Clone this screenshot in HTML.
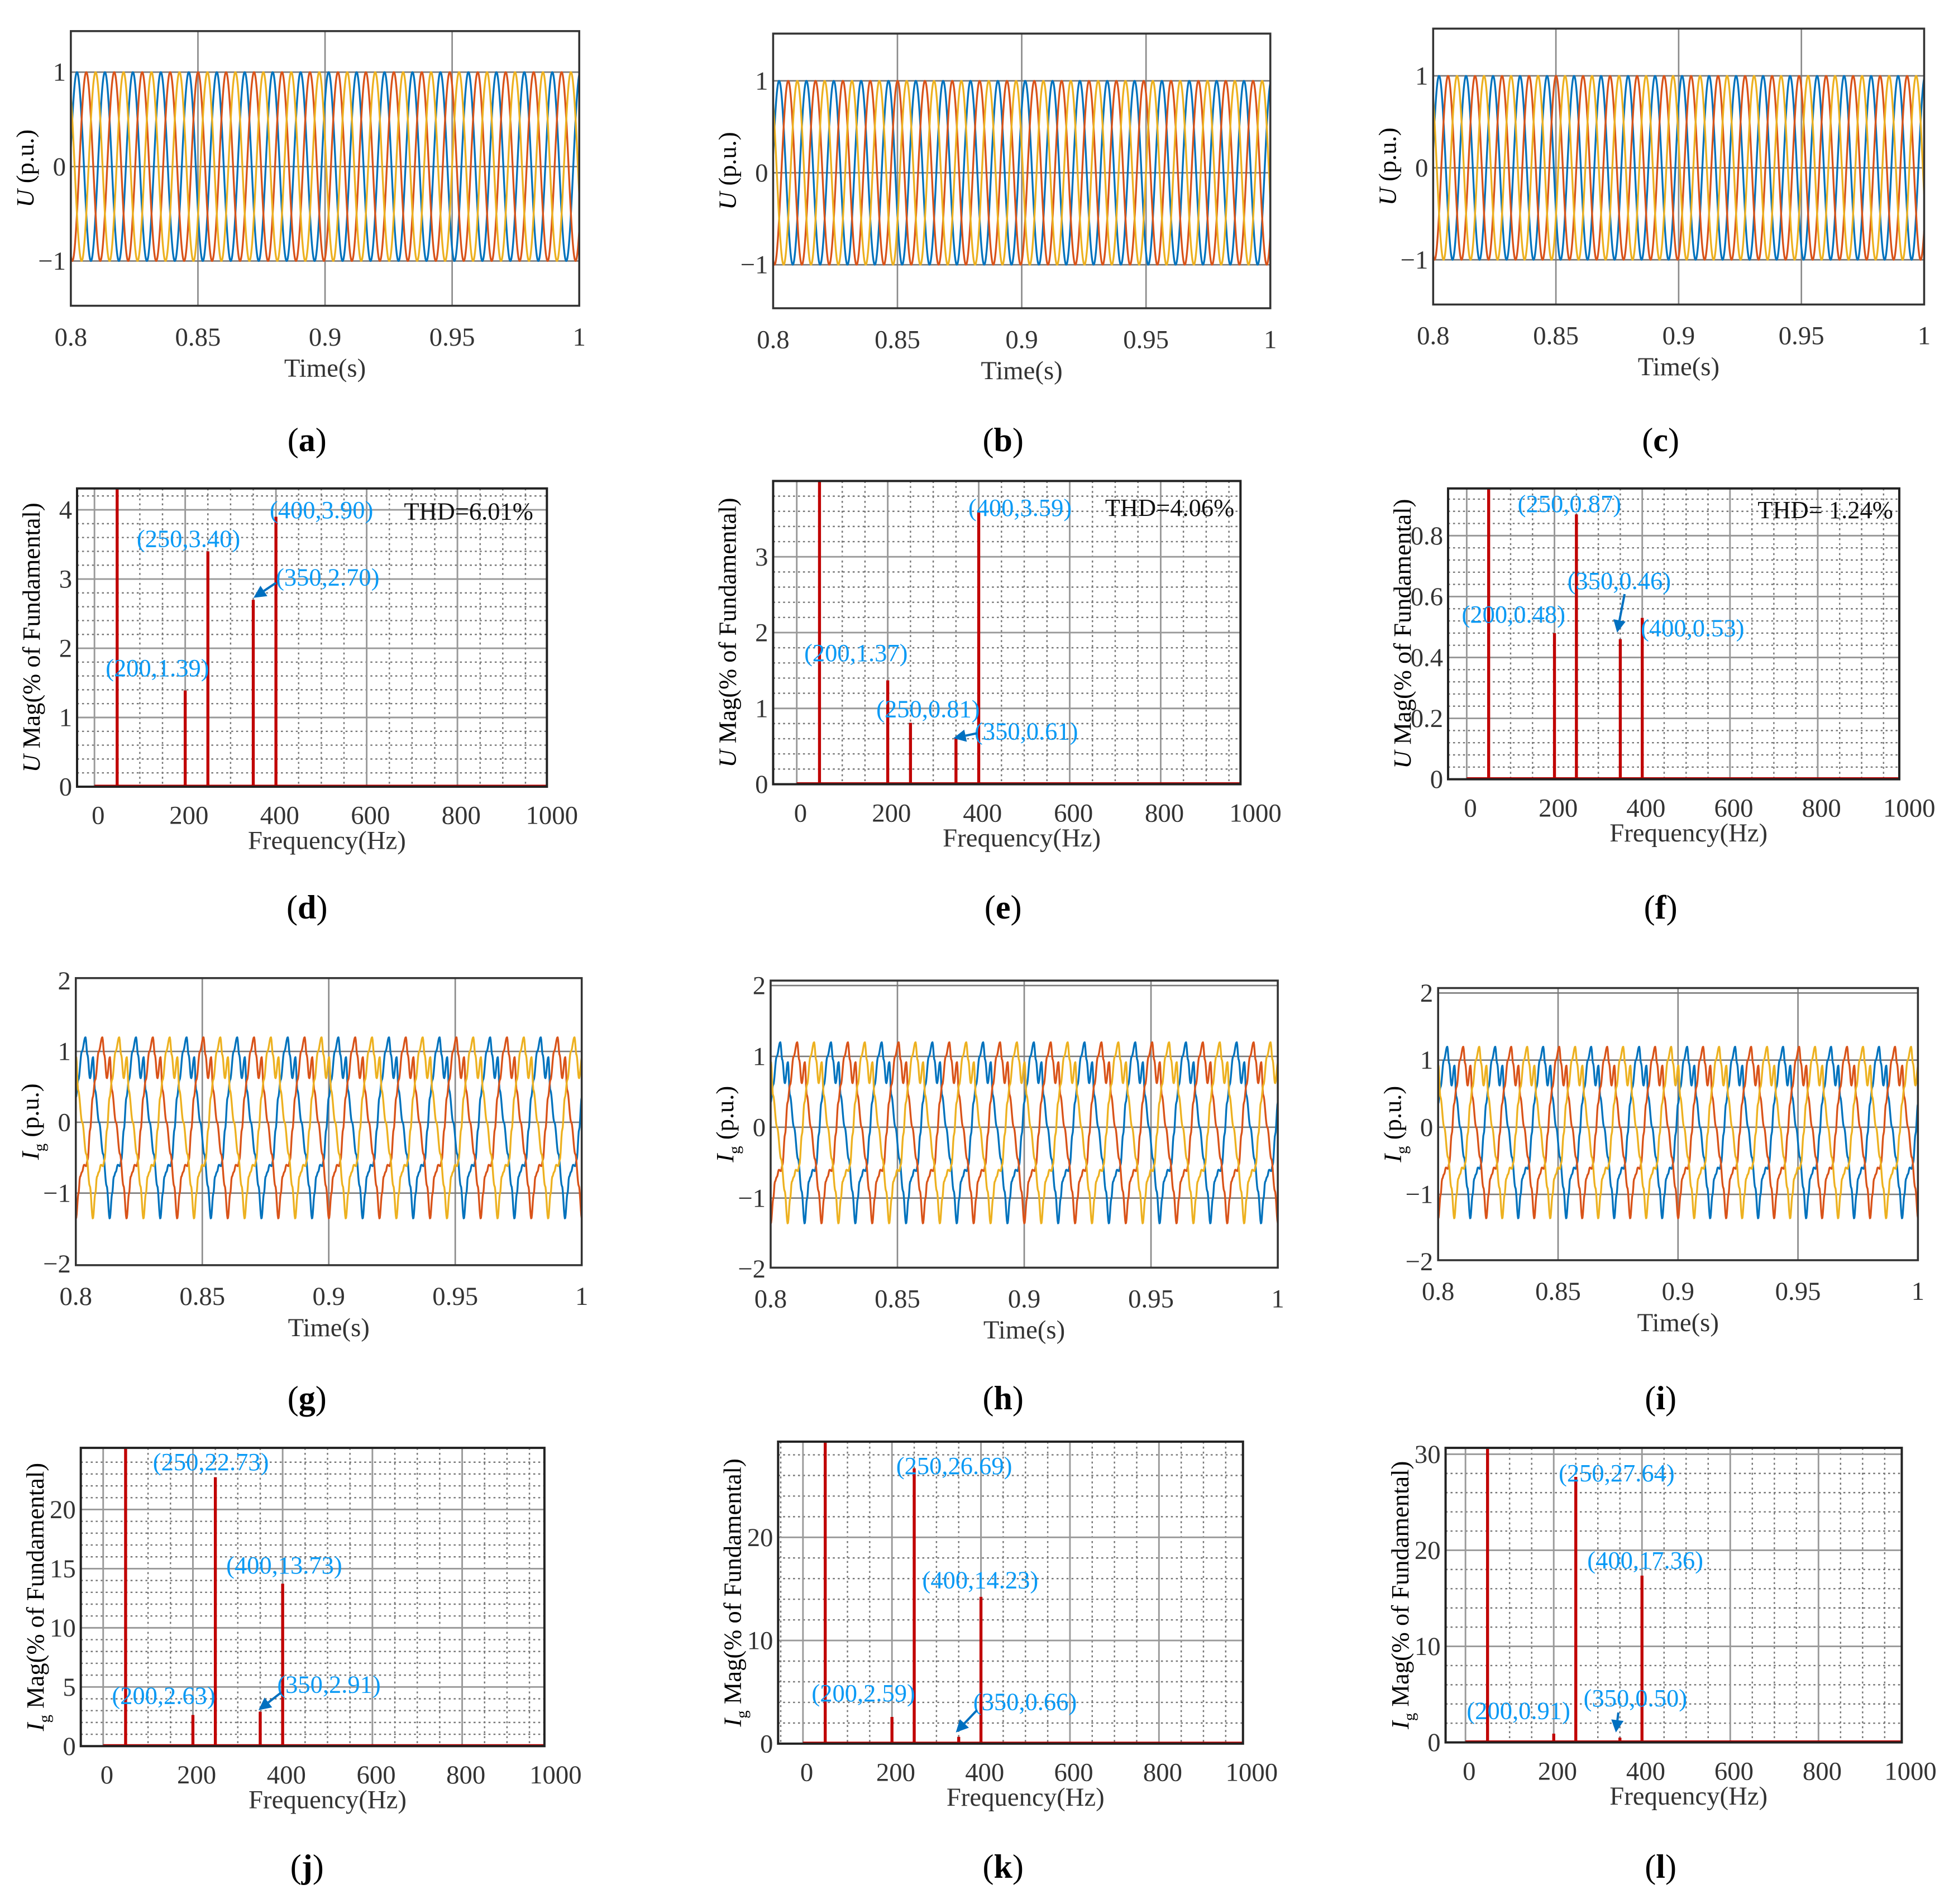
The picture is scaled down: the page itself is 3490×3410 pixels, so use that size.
<!DOCTYPE html>
<html><head><meta charset="utf-8"><style>
html,body{margin:0;padding:0;background:#fff}
svg{display:block}
svg text{font-family:"Liberation Serif","DejaVu Serif",serif}
</style></head><body>
<svg id="fig" xmlns="http://www.w3.org/2000/svg" width="3490" height="3410" viewBox="0 0 1568 1532" font-family="Liberation Serif, serif">
<rect width="1568" height="1532" fill="#fff"/>
</svg>
<script>
// ---- data ----
const timeTicks = [0.8, 0.85, 0.9, 0.95, 1];
const timeTickLabels = ["0.8", "0.85", "0.9", "0.95", "1"];
const phaseColors = ["#0072BD", "#D95319", "#EDB120"];
const phaseLagCycles = [0, 1/3, 2/3];
// voltage: apparent period (s) and time of first blue peak
const voltPeriod = 0.011;
const voltFirstPeak = 0.8024;
// current: one-cycle waveform (fraction of cycle after peak, value p.u.)
const currPeriod = 0.02;
const currFirstPeak = 0.8038;
const currCycleFrac = [0, 0.04, 0.09, 0.15, 0.19, 0.27, 0.35, 0.42, 0.48, 0.53, 0.56, 0.6, 0.64, 0.68, 0.71, 0.76, 0.81, 0.86, 0.93, 1];
const currCycleVal  = [1.2, 0.95, 0.62, 0.92, 0.45, 0.0, -0.45, -0.9, -1.36, -1.0, -0.77, -0.7, -0.6, -0.62, -0.53, -0.1, 0.35, 0.6, 1.0, 1.2];
const freqTicks = [0, 200, 400, 600, 800, 1000];
const freqTickLabels = ["0", "200", "400", "600", "800", "1000"];
const harmFreqs = [50, 200, 250, 350, 400];
const magD = [100, 1.39, 3.40, 2.70, 3.90];
const magE = [100, 1.37, 0.81, 0.61, 3.59];
const magF = [100, 0.48, 0.87, 0.46, 0.53];
const magJ = [100, 2.63, 22.73, 2.91, 13.73];
const magK = [100, 2.59, 26.69, 0.66, 14.23];
const magL = [100, 0.91, 27.64, 0.50, 17.36];

const NS = "http://www.w3.org/2000/svg";
const svg = document.getElementById('fig');
let clipId = 0;
function el(tag, attrs, parent, txt){
  const e = document.createElementNS(NS, tag);
  for (const k in attrs) e.setAttribute(k, attrs[k]);
  if (tag === 'text') e.setAttribute('font-family', 'Liberation Serif, DejaVu Serif, serif');
  if (txt !== undefined) e.textContent = txt;
  (parent || svg).appendChild(e);
  return e;
}
function makeClip(g, l, t, r, b){
  const id = 'c' + (clipId++);
  const cp = el('clipPath', {id: id}, g);
  el('rect', {x: l, y: t, width: r - l, height: b - t}, cp);
  return 'url(#' + id + ')';
}
function subLabel(x, y, letter, name){
  const t = el('text', {x: x, y: y, 'font-size': 27, 'text-anchor': 'middle'});
  
  
  el('tspan', {}, t, '(');
  el('tspan', {'font-weight': 'bold'}, t, letter);
  el('tspan', {}, t, ')');
}
function yTitle(g, x, cy, main, sub, rest){
  const t = el('text', {x: 0, y: 0, 'font-size': 20, 'text-anchor': 'middle', transform: 'translate(' + x + ',' + cy + ') rotate(-90)'}, g);
  
  
  el('tspan', {'font-style': 'italic'}, t, main);
  if (sub) el('tspan', {'font-size': 13, dy: 5}, t, sub);
  el('tspan', {dy: sub ? -5 : 0}, t, rest);
}
function voltVal(t, p){
  return Math.cos(2 * Math.PI * ((t - voltFirstPeak) / voltPeriod - phaseLagCycles[p]));
}
function currVal(t, p){
  let f = (t - currFirstPeak) / currPeriod - phaseLagCycles[p];
  f = f - Math.floor(f);
  for (let i = 1; i < currCycleFrac.length; i++){
    if (f <= currCycleFrac[i]){
      const a = currCycleFrac[i - 1], b = currCycleFrac[i];
      const u = (f - a) / (b - a);
      const s = (1 - Math.cos(Math.PI * u)) / 2;
      return currCycleVal[i - 1] + (currCycleVal[i] - currCycleVal[i - 1]) * s;
    }
  }
  return currCycleVal[0];
}

function timePanel(o){
  const g = el('g', {});
  
  
  const X = t => o.l + (t - 0.8) / 0.2 * (o.r - o.l);
  const Y = v => o.y0 - v * o.unit;
  el('rect', {x: o.l, y: o.t, width: o.r - o.l, height: o.b - o.t, fill: '#fff'}, g);
  timeTicks.forEach((tv, i) => {
    if (i > 0 && i < timeTicks.length - 1) el('line', {x1: X(tv), x2: X(tv), y1: o.t, y2: o.b, stroke: '#8a8a8a', 'stroke-width': 1.2}, g);
    const lb = el('text', {x: X(tv), y: o.b + 32, 'font-size': 21, 'text-anchor': 'middle', fill: '#333'}, g, timeTickLabels[i]);
    
    
  });
  o.yticks.forEach((v, i) => {
    if (Y(v) > o.t + 2 && Y(v) < o.b - 2) el('line', {x1: o.l, x2: o.r, y1: Y(v), y2: Y(v), stroke: '#7a7a7a', 'stroke-width': 1.2}, g);
    const lb = el('text', {x: o.l - 4, y: Y(v) + 7, 'font-size': 21, 'text-anchor': 'end', fill: '#333'}, g, o.ylabels[i]);
    
    
  });
  const cp = makeClip(g, o.l, o.t, o.r, o.b);
  const lg = el('g', {'clip-path': cp}, g);
  phaseColors.forEach((col, p) => {
    let d = '';
    const N = 1200;
    for (let k = 0; k <= N; k++){
      const t = 0.8 + 0.2 * k / N;
      const v = o.fn(t, p);
      d += (k ? 'L' : 'M') + X(t).toFixed(2) + ',' + Y(v).toFixed(2);
    }
    const pth = el('path', {d: d, fill: 'none', stroke: col, 'stroke-width': 1.5, 'stroke-linejoin': 'round'}, lg);
    
    
  });
  el('rect', {x: o.l, y: o.t, width: o.r - o.l, height: o.b - o.t, fill: 'none', stroke: '#333', 'stroke-width': 1.6}, g);
  yTitle(g, o.l - 30, (o.t + o.b) / 2, o.ymain, o.ysub, ' (p.u.)');
  const xt = el('text', {x: (o.l + o.r) / 2, y: o.b + 57, 'font-size': 21, 'text-anchor': 'middle', fill: '#333'}, g, 'Time(s)');
  
  
}

function specPanel(o){
  const g = el('g', {});
  
  
  const X = f => o.x0 + f / 200 * o.p200;
  const Y = v => o.y0 - v / o.ystep * o.ypx;
  el('rect', {x: o.l, y: o.t, width: o.r - o.l, height: o.b - o.t, fill: '#fff'}, g);
  for (let f = -200; f <= 1200; f += 50){
    if (f % 200 === 0) continue;
    const x = X(f);
    if (x > o.l + 1 && x < o.r - 1) el('line', {x1: x, x2: x, y1: o.t, y2: o.b, stroke: '#777', 'stroke-width': 1.1, 'stroke-dasharray': '1.6,2.4'}, g);
  }
  for (let k = 1; ; k++){
    const v = k * o.ystep / 5;
    if (Y(v) < o.t + 1) break;
    if (k % 5 === 0) continue;
    el('line', {x1: o.l, x2: o.r, y1: Y(v), y2: Y(v), stroke: '#777', 'stroke-width': 1.1, 'stroke-dasharray': '1.6,2.4'}, g);
  }
  freqTicks.forEach((f, i) => {
    const x = X(f);
    if (x > o.l + 1 && x < o.r - 1) el('line', {x1: x, x2: x, y1: o.t, y2: o.b, stroke: '#999', 'stroke-width': 1.3}, g);
    const lb = el('text', {x: x + 3, y: o.b + 30, 'font-size': 21, 'text-anchor': 'middle', fill: '#333'}, g, freqTickLabels[i]);
    
    
  });
  o.ylabels.forEach((s, i) => {
    const v = i * o.ystep;
    if (i > 0) el('line', {x1: o.l, x2: o.r, y1: Y(v), y2: Y(v), stroke: '#999', 'stroke-width': 1.3}, g);
    const lb = el('text', {x: o.l - 4, y: Y(v) + 7, 'font-size': 21, 'text-anchor': 'end', fill: '#333'}, g, s);
    
    
  });
  const cp = makeClip(g, o.l, o.t, o.r, o.b);
  const bg = el('g', {'clip-path': cp}, g);
  el('line', {x1: X(0), x2: X(1000), y1: o.b - 1, y2: o.b - 1, stroke: '#c00000', 'stroke-width': 1.2}, bg);
  harmFreqs.forEach((f, i) => {
    const bar = el('line', {x1: X(f), x2: X(f), y1: o.b, y2: Y(o.mags[i]), stroke: '#c00000', 'stroke-width': 2.4}, bg);
    
    
  });
  el('rect', {x: o.l, y: o.t, width: o.r - o.l, height: o.b - o.t, fill: 'none', stroke: '#222', 'stroke-width': 1.8}, g);
  o.ann.forEach(a => {
    const t = el('text', {x: a[0], y: a[1], 'font-size': 20, fill: a[3] || '#0a9af5', 'text-anchor': 'start'}, g, a[2]);
    
    
  });
  if (o.arrow){
    const [x1, y1, x2, y2] = o.arrow;
    const ang = Math.atan2(y2 - y1, x2 - x1);
    const hl = 10, hw = 5;
    const bx = x2 - hl * Math.cos(ang), by = y2 - hl * Math.sin(ang);
    const ar = el('g', {}, g);
    
    
    el('line', {x1: x1, y1: y1, x2: bx, y2: by, stroke: '#0070C0', 'stroke-width': 1.8}, ar);
    el('polygon', {points: x2 + ',' + y2 + ' ' + (bx + hw * Math.sin(ang)) + ',' + (by - hw * Math.cos(ang)) + ' ' + (bx - hw * Math.sin(ang)) + ',' + (by + hw * Math.cos(ang)), fill: '#0070C0'}, ar);
  }
  yTitle(g, o.l - 30, (o.t + o.b) / 2, o.ymain, o.ysub, ' Mag(% of Fundamental)');
  const xt = el('text', {x: (o.l + o.r) / 2 + 12, y: o.b + 50, 'font-size': 21, 'text-anchor': 'middle', fill: '#333'}, g, 'Frequency(Hz)');
  
  
}

const vY = [-1, 0, 1], vL = ["\u22121", "0", "1"];
const iY = [-2, -1, 0, 1, 2], iL = ["\u22122", "\u22121", "0", "1", "2"];
timePanel({name: 'panel-a', l: 57, r: 466, t: 25, b: 246, y0: 134, unit: 76, yticks: vY, ylabels: vL, fn: voltVal, ymain: 'U'});
timePanel({name: 'panel-b', l: 622, r: 1022, t: 27, b: 248, y0: 139, unit: 74, yticks: vY, ylabels: vL, fn: voltVal, ymain: 'U'});
timePanel({name: 'panel-c', l: 1153, r: 1548, t: 23, b: 245, y0: 135, unit: 74, yticks: vY, ylabels: vL, fn: voltVal, ymain: 'U'});
timePanel({name: 'panel-g', l: 61, r: 468, t: 787, b: 1018, y0: 903, unit: 57, yticks: iY, ylabels: iL, fn: currVal, ymain: 'I', ysub: 'g'});
timePanel({name: 'panel-h', l: 620, r: 1028, t: 789, b: 1020, y0: 907, unit: 57, yticks: iY, ylabels: iL, fn: currVal, ymain: 'I', ysub: 'g'});
timePanel({name: 'panel-i', l: 1157, r: 1543, t: 795, b: 1014, y0: 907, unit: 54, yticks: iY, ylabels: iL, fn: currVal, ymain: 'I', ysub: 'g'});

specPanel({name: 'panel-d', l: 62, r: 440, t: 393, b: 633, x0: 76, p200: 73, y0: 633, ystep: 1, ypx: 55.7, ylabels: ["0", "1", "2", "3", "4"], mags: magD, ymain: 'U',
  ann: [[217, 417, '(400,3.90)'], [325, 418, 'THD=6.01%', '#111'], [110, 440, '(250,3.40)'], [222, 471, '(350,2.70)'], [85, 544, '(200,1.39)']], arrow: [222, 469, 204, 481]});
specPanel({name: 'panel-e', l: 622, r: 998, t: 387, b: 631, x0: 641, p200: 73.2, y0: 631, ystep: 1, ypx: 61, ylabels: ["0", "1", "2", "3"], mags: magE, ymain: 'U',
  ann: [[779, 415, '(400,3.59)'], [889, 415, 'THD=4.06%', '#111'], [647, 532, '(200,1.37)'], [705, 577, '(250,0.81)'], [784, 595, '(350,0.61)']], arrow: [786, 590, 767, 594]});
specPanel({name: 'panel-f', l: 1165, r: 1528, t: 393, b: 627, x0: 1180, p200: 70.6, y0: 627, ystep: 0.2, ypx: 49, ylabels: ["0", "0.2", "0.4", "0.6", "0.8"], mags: magF, ymain: 'U',
  ann: [[1221, 412, '(250,0.87)'], [1414, 417, 'THD= 1.24%', '#111'], [1261, 474, '(350,0.46)'], [1176, 501, '(200,0.48)'], [1320, 512, '(400,0.53)']], arrow: [1307, 478, 1301, 509]});
specPanel({name: 'panel-j', l: 65, r: 438, t: 1165, b: 1405, x0: 83, p200: 72.2, y0: 1405, ystep: 5, ypx: 47.6, ylabels: ["0", "5", "10", "15", "20"], mags: magJ, ymain: 'I', ysub: 'g',
  ann: [[123, 1183, '(250,22.73)'], [182, 1266, '(400,13.73)'], [90, 1371, '(200,2.63)'], [223, 1362, '(350,2.91)']], arrow: [226, 1362, 208, 1376]});
specPanel({name: 'panel-k', l: 626, r: 1000, t: 1160, b: 1403, x0: 646, p200: 71.6, y0: 1403, ystep: 10, ypx: 83, ylabels: ["0", "10", "20"], mags: magK, ymain: 'I', ysub: 'g',
  ann: [[721, 1186, '(250,26.69)'], [742, 1278, '(400,14.23)'], [653, 1369, '(200,2.59)'], [783, 1376, '(350,0.66)']], arrow: [786, 1376, 769, 1394]});
specPanel({name: 'panel-l', l: 1163, r: 1530, t: 1165, b: 1402, x0: 1179, p200: 71, y0: 1402, ystep: 10, ypx: 77.3, ylabels: ["0", "10", "20", "30"], mags: magL, ymain: 'I', ysub: 'g',
  ann: [[1254, 1192, '(250,27.64)'], [1277, 1262, '(400,17.36)'], [1180, 1383, '(200,0.91)'], [1274, 1373, '(350,0.50)']], arrow: [1302, 1378, 1300, 1394]});

subLabel(247, 363, 'a', 'caption-a'); subLabel(807, 363, 'b', 'caption-b'); subLabel(1336, 363, 'c', 'caption-c');
subLabel(247, 739, 'd', 'caption-d'); subLabel(807, 739, 'e', 'caption-e'); subLabel(1336, 739, 'f', 'caption-f');
subLabel(247, 1134, 'g', 'caption-g'); subLabel(807, 1134, 'h', 'caption-h'); subLabel(1336, 1134, 'i', 'caption-i');
subLabel(247, 1511, 'j', 'caption-j'); subLabel(807, 1511, 'k', 'caption-k'); subLabel(1336, 1511, 'l', 'caption-l');
</script>
</body></html>
